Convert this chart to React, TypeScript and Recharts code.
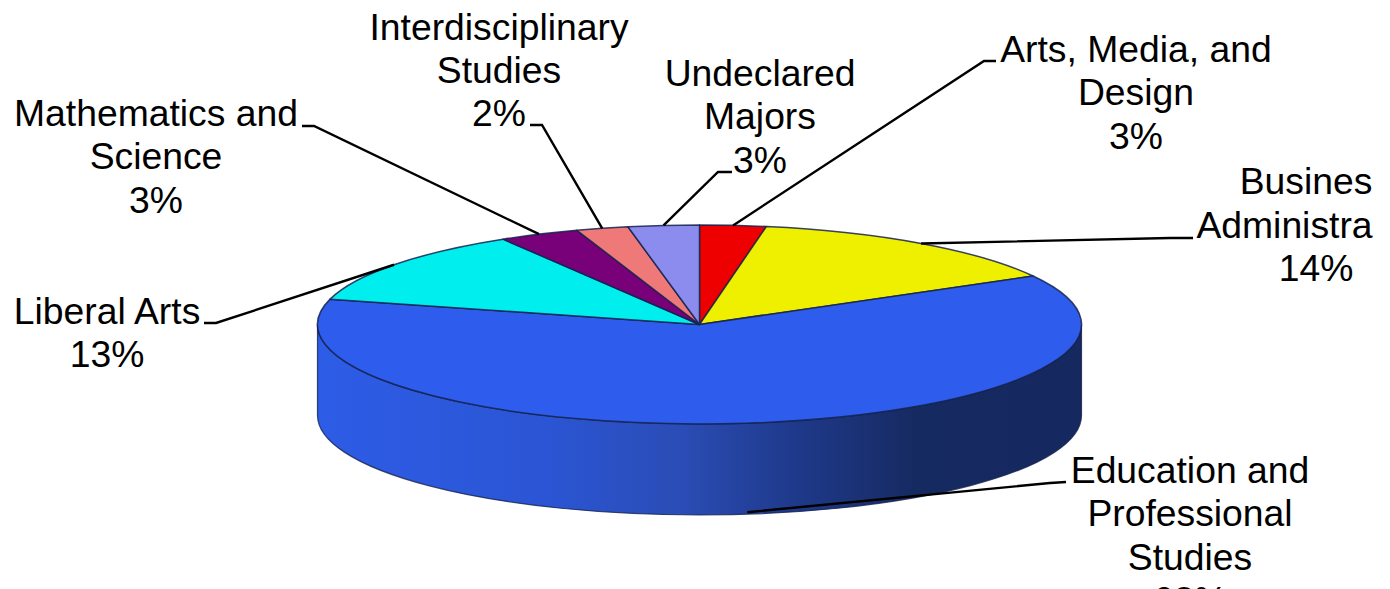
import { PieChart, Pie } from "recharts";

const categories = [
    "Arts, Media, and Design",
    "Business Administration",
    "Education and Professional Studies",
    "Liberal Arts",
    "Mathematics and Science",
    "Interdisciplinary Studies",
    "Undeclared Majors",
];
const sliceValues = [2.8, 14.1, 62.2, 12.3, 3.4, 2.2, 3.0];
const sliceColors = ["#ee0000", "#efef00", "#2e5cec", "#00eeee", "#780078", "#ef7878", "#8c8cee"];

// label text as printed on the chart, the cut-off words are in the original
const labelLines = [
    ["Arts, Media, and", "Design", "3%"],
    ["Busines", "Administra", "14%"],
    ["Education and", "Professional", "Studies", "62%"],
    ["Liberal Arts", "13%"],
    ["Mathematics and", "Science", "3%"],
    ["Interdisciplinary", "Studies", "2%"],
    ["Undeclared", "Majors", "3%"],
];

const pieData = categories.map((name, i) => ({
    name,
    value: sliceValues[i],
    fill: sliceColors[i],
}));

const WIDTH = 1390;
const HEIGHT = 589;
const CX = 699.5;
const CY = 324.5;
const RX = 382;
const RY = 99.5;
const DEPTH = 91;
const FONT_SIZE = 37.3;
const LINE_HEIGHT = 43.4;

type LabelPlace = {
    x: number | number[];
    y: number;
    leadFrom: [number, number];
    elbow: [number, number];
    onWall?: boolean;
};

const labelPlaces: LabelPlace[] = [
    { x: 1136, y: 62, leadFrom: [996, 61], elbow: [984, 61] },
    // the clipped words keep their own centres
    { x: [1306, 1284.5, 1316], y: 194.3, leadFrom: [1193, 238], elbow: [1170, 238] },
    { x: 1190, y: 483, leadFrom: [1066, 482], elbow: [1050, 483], onWall: true },
    { x: 107, y: 324, leadFrom: [204, 323], elbow: [216, 323] },
    { x: 156, y: 126, leadFrom: [302, 126], elbow: [314, 126] },
    { x: 499, y: 39.5, leadFrom: [530, 125], elbow: [542, 125] },
    { x: 760, y: 86, leadFrom: [732, 172], elbow: [718, 172] },
];

function rimPoint(angle: number, cx: number, cy: number) {
    const rad = (angle * Math.PI) / 180;
    return [cx + RX * Math.cos(rad), cy - RY * Math.sin(rad)];
}

// flat sector squashed into an ellipse
function TopSlice(props: any) {
    const { cx, cy, startAngle, endAngle, fill } = props;
    const [x0, y0] = rimPoint(startAngle, cx, cy);
    const [x1, y1] = rimPoint(endAngle, cx, cy);
    const large = Math.abs(startAngle - endAngle) > 180 ? 1 : 0;
    return (
        <path
            d={`M${cx},${cy}L${x0},${y0}A${RX},${RY} 0 ${large} 1 ${x1},${y1}Z`}
            fill={fill}
            stroke="#14224f"
            strokeOpacity={0.85}
            strokeWidth={1.5}
            strokeLinejoin="round"
        />
    );
}

// side of the disc, only the part of a slice facing the viewer
function WallSlice(props: any) {
    const { cx, cy, startAngle, endAngle } = props;
    const from = Math.min(startAngle, 0);
    const to = Math.max(endAngle, -180);
    if (from <= to) return <g />;
    const [x0, y0] = rimPoint(from, cx, cy);
    const [x1, y1] = rimPoint(to, cx, cy);
    return (
        <path
            d={`M${x0},${y0}A${RX},${RY} 0 0 1 ${x1},${y1}L${x1},${y1 + DEPTH}A${RX},${RY} 0 0 0 ${x0},${y0 + DEPTH}Z`}
            fill="url(#wallShade)"
            stroke="#14224f"
            strokeOpacity={0.8}
            strokeWidth={1.2}
        />
    );
}

function SliceLabel(props: any) {
    const { cx, cy, midAngle, index } = props;
    const place = labelPlaces[index];
    const [rimX, rimY] = rimPoint(midAngle, cx, cy);
    const startY = place.onWall ? rimY + DEPTH - 2 : rimY;
    const points = [
        place.leadFrom.join(","),
        place.elbow.join(","),
        `${rimX},${startY}`,
    ].join(" ");
    return (
        <g>
            <polyline points={points} fill="none" stroke="#000" strokeWidth={2.4} />
            <text
                textAnchor="middle"
                fontFamily="'Liberation Sans', Arial, sans-serif"
                fontSize={FONT_SIZE}
                fill="#000"
            >
                {labelLines[index].map((line, i) => (
                    <tspan
                        key={line}
                        x={Array.isArray(place.x) ? place.x[i] : place.x}
                        y={place.y + i * LINE_HEIGHT}
                    >
                        {line}
                    </tspan>
                ))}
            </text>
        </g>
    );
}

export default function App() {
    return (
        <div
            style={{
                position: "absolute",
                left: 0,
                top: 0,
                width: WIDTH,
                height: HEIGHT,
                overflow: "hidden",
                background: "#fff",
            }}
        >
            <PieChart width={WIDTH} height={HEIGHT} margin={{ top: 0, right: 0, bottom: 0, left: 0 }}>
                <defs>
                    <linearGradient id="wallShade" gradientUnits="userSpaceOnUse" x1={317} y1={0} x2={1082} y2={0}>
                        <stop offset="0" stopColor="#2d5ce6" />
                        <stop offset="0.3" stopColor="#2b55d4" />
                        <stop offset="0.48" stopColor="#2a4cb4" />
                        <stop offset="0.62" stopColor="#1f3a8c" />
                        <stop offset="0.78" stopColor="#162a62" />
                        <stop offset="1" stopColor="#15285f" />
                    </linearGradient>
                </defs>
                <Pie
                    data={pieData}
                    dataKey="value"
                    nameKey="name"
                    cx={CX}
                    cy={CY}
                    outerRadius={RX}
                    startAngle={90}
                    endAngle={-270}
                    shape={WallSlice}
                    isAnimationActive={false}
                    legendType="none"
                />
                <Pie
                    data={pieData}
                    dataKey="value"
                    nameKey="name"
                    cx={CX}
                    cy={CY}
                    outerRadius={RX}
                    startAngle={90}
                    endAngle={-270}
                    shape={TopSlice}
                    label={SliceLabel}
                    labelLine={false}
                    isAnimationActive={false}
                    legendType="none"
                />
            </PieChart>
        </div>
    );
}
